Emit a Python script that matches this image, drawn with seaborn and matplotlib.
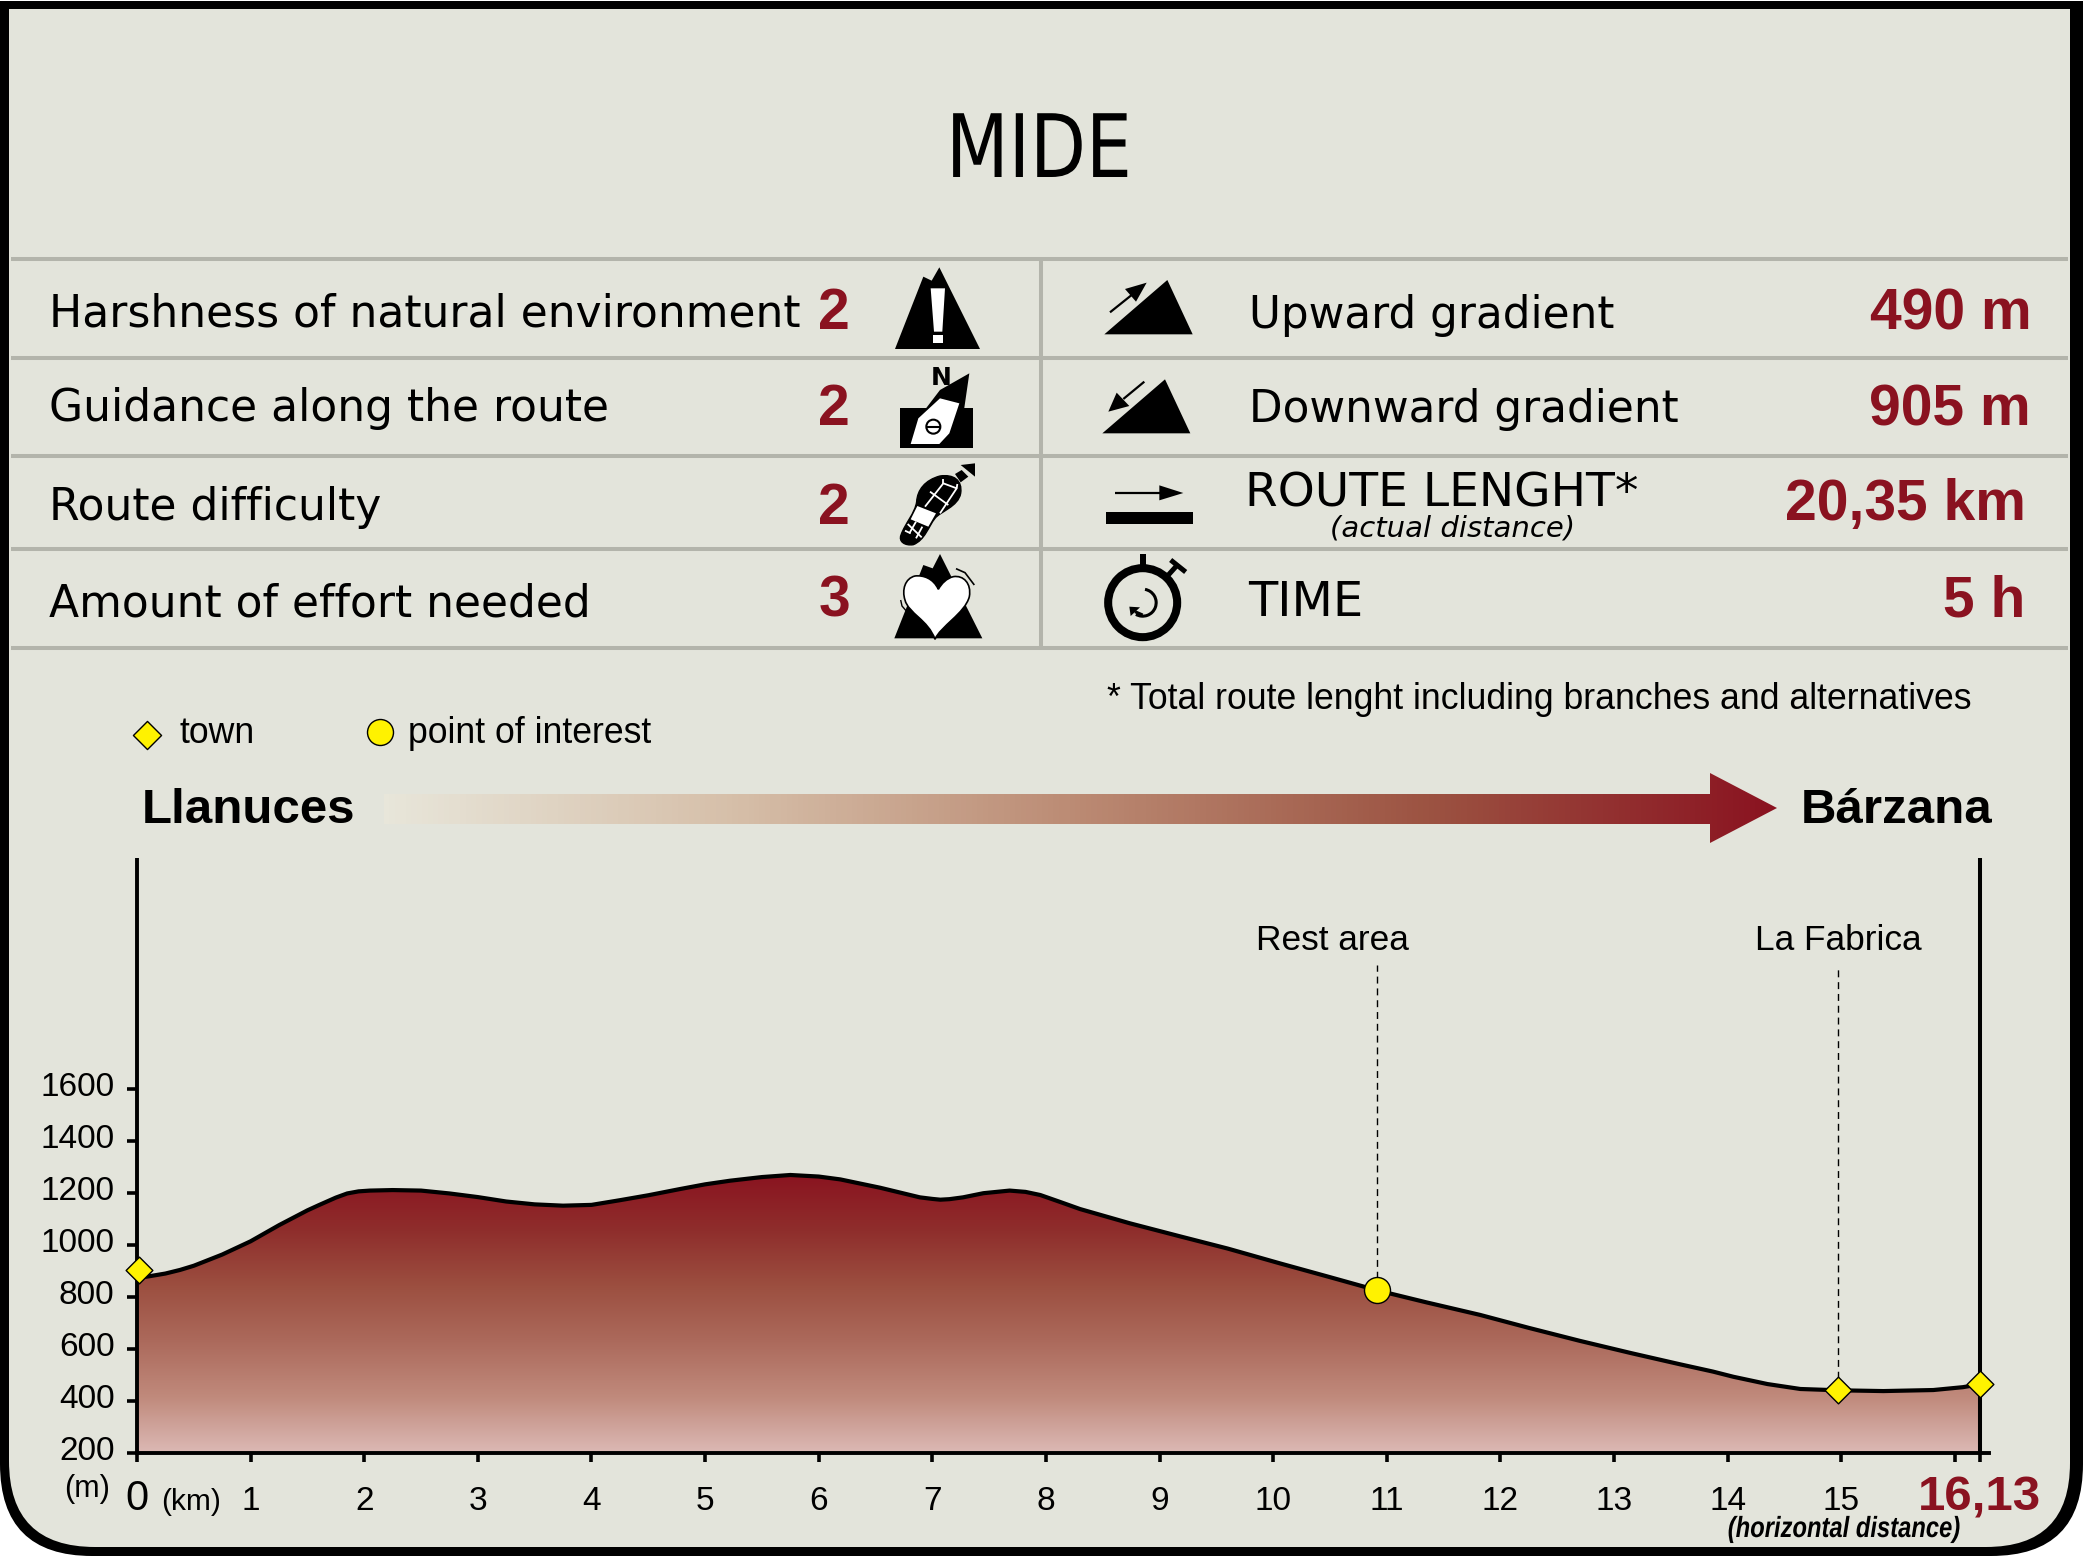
import numpy as np
import pandas as pd
import matplotlib
matplotlib.use('Agg')
import matplotlib.pyplot as plt
import matplotlib.patheffects as pe
import seaborn as sns
from matplotlib.colors import LinearSegmentedColormap
from matplotlib.patches import Polygon, Circle, PathPatch, Arc
from matplotlib.path import Path
from matplotlib.transforms import Affine2D, ScaledTranslation

# data
km = [0, 0.1, 0.25, 0.38, 0.5, 0.75, 1.0, 1.25, 1.5, 1.6, 1.75, 1.85, 1.95, 2.05, 2.25, 2.5, 2.75, 3.0, 3.25, 3.5, 3.75,
      4.0, 4.25, 4.5, 4.78, 5.0, 5.22, 5.5, 5.75, 6.0, 6.19, 6.54, 6.89, 7.0, 7.07, 7.15, 7.27, 7.45, 7.68, 7.82, 7.95,
      8.12, 8.30, 8.74, 9.18, 9.6, 10.06, 10.5, 10.91, 11.35, 11.82, 12.25, 12.70, 13.15, 13.58,
      13.87, 14.05, 14.35, 14.64, 14.97, 15.37, 15.81, 16.07, 16.22]
elevation = [872, 878, 889, 903, 919, 962, 1013, 1075, 1132, 1152, 1181, 1197, 1205, 1208, 1210, 1208, 1197, 1183, 1166, 1155, 1150,
             1153, 1171, 1190, 1214, 1232, 1246, 1260, 1268, 1262, 1251, 1219, 1182, 1176, 1173, 1175, 1182, 1198, 1208, 1203, 1191,
             1165, 1137, 1082, 1032, 985, 928, 875, 825, 778, 730, 680, 630, 583, 540,
             512, 492, 464, 445, 440, 437, 441, 452, 463]

town_km = [0.02, 14.97, 16.22]
town_elev = [903, 440, 463]
poi_km = [10.91]
poi_elev = [825]
guide_km = [10.91, 14.97]
guide_bottom = [825, 440]
guide_names = ['Rest area', 'La Fabrica']
guide_top = 2076

y_ticks = [200, 400, 600, 800, 1000, 1200, 1400, 1600]
x_ticks = list(range(0, 17)) + [16.22]
x_tick_labels = [str(i) for i in range(0, 16)] + ['', '16,13']

left_labels = ['Harshness of natural environment', 'Guidance along the route', 'Route difficulty', 'Amount of effort needed']
left_scores = ['2', '2', '2', '3']
right_labels = ['Upward gradient', 'Downward gradient', 'ROUTE LENGHT*', 'TIME']
right_values = ['490 m', '905 m', '20,35 km', '5 h']

BG = '#e3e4db'
RED = '#8a1220'
GREY = '#b3b4ab'
YELLOW = '#fff200'
SANS = ['Liberation Sans', 'DejaVu Sans']

sns.set_theme(style='ticks', rc={'text.color': 'black', 'xtick.color': 'black', 'ytick.color': 'black',
                                 'axes.edgecolor': 'black', 'axes.facecolor': 'none'})
plt.rcParams['font.family'] = SANS

W, H = 2083, 1556
fig = plt.figure(figsize=(W / 100, H / 100), dpi=100, facecolor='white')


# the narrow fonts of the original are not installed, so squeeze the glyphs sideways
class Squeeze(pe.AbstractPathEffect):
    def __init__(self, sx, cx):
        super().__init__()
        self.sx, self.cx = sx, cx

    def draw_path(self, renderer, gc, tpath, affine, rgbFace=None):
        squeeze = Affine2D().translate(-self.cx, 0).scale(self.sx, 1).translate(self.cx, 0)
        renderer.draw_path(gc, tpath, affine + squeeze, rgbFace)


# ---- panel layer, in picture pixels ----
bg = fig.add_axes([0, 0, 1, 1], zorder=0)
bg.set_xlim(0, W)
bg.set_ylim(H, 0)
bg.axis('off')


def rounded(x0, y0, x1, y1, rb_l, rb_r):
    verts = [(x0, y0), (x1, y0), (x1, y1 - rb_r), (x1, y1), (x1 - rb_r, y1),
             (x0 + rb_l, y1), (x0, y1), (x0, y1 - rb_l), (x0, y0)]
    codes = [Path.MOVETO, Path.LINETO, Path.LINETO, Path.CURVE3, Path.CURVE3,
             Path.LINETO, Path.CURVE3, Path.CURVE3, Path.CLOSEPOLY]
    return Path(verts, codes)


bg.add_patch(PathPatch(rounded(0, 1, W, H, 92, 92), fc='black', ec='none'))
bg.add_patch(PathPatch(rounded(9, 9, 2070, 1547, 86, 84), fc=BG, ec='none'))

for y in [259, 358, 456, 549, 648]:
    bg.plot([11, 2068], [y, y], color=GREY, lw=2.9, solid_capstyle='butt')
bg.plot([1041, 1041], [259, 648], color=GREY, lw=2.9, solid_capstyle='butt')

bg.text(1039, 177, 'MIDE', family='DejaVu Sans', fontsize=63, ha='center', va='baseline',
        path_effects=[Squeeze(0.83, 1039)])

# table text
base_left = [326, 421, 520, 616]
base_score = [329, 425, 524, 616]
for lab, score, yl, ys in zip(left_labels, left_scores, base_left, base_score):
    bg.text(49, yl, lab, family='DejaVu Sans', fontsize=31.7, va='baseline')
    bg.text(850, ys, score, family=SANS, fontsize=41, weight='bold', color=RED, ha='right', va='baseline')

base_right = [328, 422, 506, 616]
x_right = [1249, 1249, 1245, 1248]
size_right = [31.5, 31.5, 33.9, 34.5]
base_val = [329, 425, 520, 616]
right_val_x = [2032, 2031, 2026, 2025]
for lab, xr, yr, fs, val, xv, yv in zip(right_labels, x_right, base_right, size_right, right_values, right_val_x, base_val):
    bg.text(xr, yr, lab, family='DejaVu Sans', fontsize=fs, va='baseline')
    bg.text(xv, yv, val, family=SANS, fontsize=41, weight='bold', color=RED, ha='right', va='baseline')
bg.text(1453, 536, '(actual distance)', family='DejaVu Sans', style='italic', fontsize=21, ha='center', va='baseline')

bg.text(1107, 709, '* Total route lenght including branches and alternatives', fontsize=25.7, va='baseline')
bg.text(179, 743, 'town', fontsize=25.7, va='baseline')
bg.text(408, 743, 'point of interest', fontsize=25.7, va='baseline')
bg.text(142, 823, 'Llanuces', fontsize=35.5, weight='bold', va='baseline')
bg.text(1801, 823, 'Bárzana', fontsize=35.5, weight='bold', va='baseline')

# gradient arrow
arrow_cmap = LinearSegmentedColormap.from_list('arrow', ['#e8e6da', '#d6bfa9', '#bb8a73', '#9c5342', '#8a1220'])
arrow_img = bg.imshow(np.linspace(0, 1, 256).reshape(1, -1), cmap=arrow_cmap, extent=[384, 1777, 843, 773], aspect='auto', zorder=1)
arrow_clip = Polygon([(384, 794), (1710, 794), (1710, 773), (1777, 808), (1710, 843), (1710, 824), (384, 824)],
                     closed=True, transform=bg.transData, fc='none', ec='none')
bg.add_patch(arrow_clip)
arrow_img.set_clip_path(arrow_clip)
bg.set_xlim(0, W)
bg.set_ylim(H, 0)


# ---- icons, coordinates measured on the crop of the table ----
def z(pts):
    return [(840 + x / 3, 250 + y / 3) for x, y in pts]


def poly(pts, fc='black', zo=3):
    bg.add_patch(Polygon(z(pts), closed=True, fc=fc, ec='none', zorder=zo))


def stroke(pts, color='black', lw=1.5, zo=4):
    p = z(pts)
    bg.plot([a for a, b in p], [b for a, b in p], color=color, lw=lw, zorder=zo, solid_capstyle='butt')


# harshness
poly([(165, 297), (250, 80), (275, 92), (298, 52), (420, 297)])
poly([(272, 115), (315, 115), (307, 245), (282, 245)], 'white', 4)
poly([(280, 255), (308, 255), (308, 278), (280, 278)], 'white', 4)

# guidance
poly([(181, 475), (398, 475), (398, 593), (181, 593)])
poly([(258, 475), (300, 420), (388, 370), (372, 480)])
poly([(212, 582), (235, 505), (300, 445), (358, 460), (328, 550), (298, 582)], 'white', 4)
bg.text(840 + 305 / 3, 250 + 404 / 3, 'N', family='DejaVu Sans', fontsize=18, weight='bold', ha='center', va='baseline', zorder=4)
cx, cy = z([(280, 530)])[0]
bg.add_patch(Circle((cx, cy), 7, fc='none', ec='black', lw=1.5, zorder=5))
stroke([(260, 530), (300, 530)], zo=5)

# route difficulty shoe
shoe_v = z([(183, 855), (195, 820), (225, 790), (230, 755), (232, 720), (255, 690), (300, 678),
            (340, 672), (368, 690), (362, 730), (355, 770), (300, 785), (285, 805),
            (265, 830), (255, 870), (220, 884), (195, 888), (175, 875), (183, 855)])
shoe_c = [Path.MOVETO] + [Path.CURVE4] * 18
bg.add_patch(PathPatch(Path(shoe_v, shoe_c), fc='black', ec='black', lw=1, zorder=3))
poly([(232, 768), (288, 790), (265, 830), (212, 808)], 'white', 4)
for seg in [[(255, 770), (310, 700), (350, 715), (300, 790)], [(270, 725), (325, 765)], [(310, 688), (310, 703)],
            [(350, 715), (352, 702)], [(203, 822), (245, 862)], [(228, 815), (208, 850)], [(247, 830), (228, 865)],
            [(195, 842), (212, 850)]]:
    stroke(seg, 'white', 1.3)
poly([(345, 672), (365, 660), (385, 680), (362, 697)])
poly([(362, 645), (405, 640), (405, 680)])

# effort: mountain and heart
poly([(163, 1165), (250, 945), (278, 955), (300, 912), (427, 1165)])
heart_v = z([(295, 1018), (280, 985), (250, 975), (225, 978), (195, 985), (185, 1020), (195, 1050),
             (205, 1090), (265, 1110), (285, 1168), (300, 1130), (375, 1090), (388, 1040),
             (395, 1000), (370, 975), (340, 980), (320, 985), (305, 1000), (295, 1018)])
heart_c = [Path.MOVETO] + [Path.CURVE4] * 18
bg.add_patch(PathPatch(Path(heart_v, heart_c), fc='white', ec='black', lw=1.2, zorder=4))
stroke([(348, 956), (375, 968), (403, 1005)], lw=1.2)
stroke([(182, 1050), (186, 1068), (198, 1082)], lw=1.0)

# gradient triangles
poly([(793, 253), (982, 90), (1058, 253)])
stroke([(810, 187), (875, 135)], lw=1.6)
poly([(855, 117), (920, 98), (888, 155)])
poly([(787, 550), (975, 388), (1051, 550)])
stroke([(913, 395), (850, 447)], lw=1.6)
poly([(830, 428), (868, 468), (805, 485)])

# length
stroke([(826, 730), (960, 730)], lw=1.6)
poly([(958, 706), (1030, 729), (958, 751)])
poly([(798, 787), (1058, 787), (1058, 822), (798, 822)])

# stopwatch
cx, cy = z([(908, 1058)])[0]
bg.add_patch(Circle((cx, cy), 34.5, fc='none', ec='black', lw=5.8, zorder=3))
poly([(900, 912), (918, 912), (918, 945), (900, 945)])
stroke([(985, 975), (1012, 945)], lw=3.6)
stroke([(992, 930), (1037, 966)], lw=3.6)
bg.add_patch(Arc((cx, cy), 27, 27, theta1=-80, theta2=120, color='black', lw=2.2, zorder=4))
stroke([(908, 1095), (885, 1085)], lw=2.2)
poly([(868, 1070), (900, 1072), (872, 1098)])

# legend symbols
bg.scatter([147], [735], marker='D', s=205, c=YELLOW, edgecolors='black', linewidths=1, zorder=3)
bg.scatter([380], [732], marker='o', s=350, c=YELLOW, edgecolors='black', linewidths=1, zorder=3)

# ---- elevation chart ----
x_left, x_end, y_base, y_top = 137, 1989, 1452.7, 858
ax = fig.add_axes([x_left / W, (H - y_base) / H, (x_end - x_left) / W, (y_base - y_top) / H], zorder=1)
ax.set_xlim(0, 16.30)
ax.set_ylim(200, 2487)
ax.patch.set_alpha(0)

profile = pd.DataFrame({'km': km, 'elevation': elevation})

fill_cmap = LinearSegmentedColormap.from_list('fill', ['#dcb9b5', '#c08a7c', '#ac6a5c', '#9c4f40', '#8f2e2c', '#8a1420'])
top_elev = max(elevation)
fill_img = ax.imshow(np.linspace(1, 0, 256).reshape(-1, 1), cmap=fill_cmap, aspect='auto',
                     extent=[0, max(km), 200, top_elev], zorder=1)
fill_poly = ax.fill_between(km, elevation, 200, color='none')
fill_img.set_clip_path(fill_poly.get_paths()[0], transform=ax.transData)
ax.set_xlim(0, 16.30)
ax.set_ylim(200, 2487)

for gx, gb in zip(guide_km, guide_bottom):
    ax.plot([gx, gx], [gb, guide_top], color='black', lw=1.0, ls=(0, (5, 3.5)), zorder=2)
bg.text(1332, 950, guide_names[0], fontsize=25.4, ha='center', va='baseline')
bg.text(1838, 950, guide_names[1], fontsize=25.4, ha='center', va='baseline')

sns.lineplot(data=profile, x='km', y='elevation', color='black', linewidth=3, sort=False, errorbar=None,
             solid_joinstyle='round', ax=ax, zorder=3)
ax.axvline(16.22, color='black', lw=2.9, zorder=2.5)
sns.scatterplot(x=town_km, y=town_elev, marker='D', s=185, color=YELLOW, edgecolor='black', linewidth=1, ax=ax, zorder=5, clip_on=False)
sns.scatterplot(x=poi_km, y=poi_elev, marker='o', s=350, color=YELLOW, edgecolor='black', linewidth=1, ax=ax, zorder=5)

sns.despine(ax=ax)
for side in ['left', 'bottom']:
    ax.spines[side].set_linewidth(2.8)
ax.spines['left'].set_capstyle('butt')
ax.set_xlabel('')
ax.set_ylabel('')
ax.set_xticks(x_ticks)
ax.set_xticklabels(x_tick_labels)
ax.set_yticks(y_ticks)
ax.set_yticklabels([str(v) for v in y_ticks])
ax.tick_params(axis='x', length=6.5, width=2.6, pad=35, labelsize=24)
ax.tick_params(axis='y', length=7.2, width=2.6, pad=9, labelsize=24)

for lab in ax.get_xticklabels():
    lab.set_verticalalignment('baseline')
xlabs = ax.get_xticklabels()
xlabs[0].set_fontsize(30)
xlabs[-1].set_fontsize(35.5)
xlabs[-1].set_fontweight('bold')
xlabs[-1].set_color(RED)
shift = ScaledTranslation(0, 4.5 / 100, fig.dpi_scale_trans)
for lab in ax.get_yticklabels():
    lab.set_transform(lab.get_transform() + shift)

bg.text(161, 1510, '(km)', fontsize=21.5, va='baseline')
bg.text(110, 1497, '(m)', fontsize=22, ha='right', va='baseline')
bg.text(1844, 1537, '(horizontal distance)', family=SANS, fontsize=21, weight='bold', style='italic', ha='center', va='baseline',
        path_effects=[Squeeze(0.815, 1844)])

fig.savefig('out.png', dpi=100, facecolor='white')
